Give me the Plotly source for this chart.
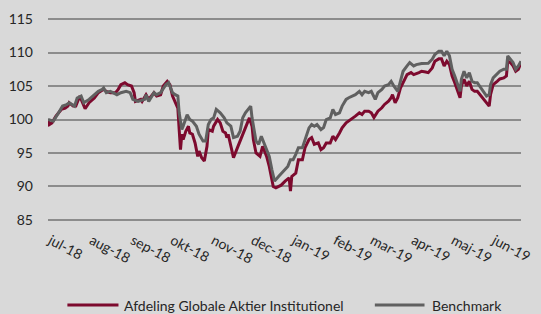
import plotly.graph_objects as go

# ---------------- data ----------------
fund_dates = [
    "2018-06-29","2018-06-30","2018-07-02","2018-07-05","2018-07-09","2018-07-12","2018-07-14","2018-07-15",
    "2018-07-18","2018-07-20","2018-07-23","2018-07-25","2018-07-27","2018-07-30","2018-08-03","2018-08-06",
    "2018-08-10","2018-08-12","2018-08-15","2018-08-19","2018-08-21","2018-08-23","2018-08-26","2018-08-28",
    "2018-08-31","2018-09-02","2018-09-03","2018-09-07","2018-09-08","2018-09-11","2018-09-13","2018-09-17",
    "2018-09-19","2018-09-22","2018-09-24","2018-09-27","2018-09-29","2018-10-01","2018-10-03","2018-10-05",
    "2018-10-06","2018-10-07","2018-10-08","2018-10-09","2018-10-11","2018-10-13","2018-10-14","2018-10-16",
    "2018-10-18","2018-10-20","2018-10-21","2018-10-23","2018-10-25","2018-10-27","2018-10-28","2018-10-31",
    "2018-11-01","2018-11-04","2018-11-06","2018-11-08","2018-11-10","2018-11-11","2018-11-12","2018-11-15",
    "2018-11-16","2018-11-19","2018-11-21","2018-11-23","2018-11-26","2018-11-28","2018-11-30","2018-12-01",
    "2018-12-03","2018-12-06","2018-12-08","2018-12-11","2018-12-13","2018-12-16","2018-12-18","2018-12-22",
    "2018-12-25","2018-12-28","2018-12-29","2018-12-30","2019-01-02","2019-01-04","2019-01-07","2019-01-09",
    "2019-01-12","2019-01-14","2019-01-16","2019-01-19","2019-01-21","2019-01-23","2019-01-25","2019-01-28",
    "2019-01-30","2019-02-01","2019-02-04","2019-02-06","2019-02-09","2019-02-11","2019-02-14","2019-02-16",
    "2019-02-19","2019-02-21","2019-02-23","2019-02-26","2019-02-28","2019-03-02","2019-03-05","2019-03-08",
    "2019-03-10","2019-03-13","2019-03-15","2019-03-16","2019-03-18","2019-03-20","2019-03-22","2019-03-25",
    "2019-03-27","2019-03-30","2019-04-01","2019-04-05","2019-04-07","2019-04-10","2019-04-12","2019-04-15",
    "2019-04-17","2019-04-20","2019-04-22","2019-04-24","2019-04-26","2019-04-28","2019-04-30","2019-05-02",
    "2019-05-04","2019-05-06","2019-05-07","2019-05-09","2019-05-11","2019-05-13","2019-05-15","2019-05-17",
    "2019-05-19","2019-05-22","2019-05-24","2019-05-26","2019-05-28","2019-05-29","2019-05-31","2019-06-03",
    "2019-06-05","2019-06-08","2019-06-10","2019-06-11","2019-06-13","2019-06-15","2019-06-17","2019-06-19",
    "2019-06-21",
]
fund_values = [
    100, 99.25, 99.5, 100.5, 101.5, 101.7, 102, 102.5,
    102, 102, 103.5, 102.5, 101.6, 102.5, 103.2, 104,
    104.5, 104.2, 104, 104, 104.5, 105.2, 105.5, 105.2,
    105, 104, 102.7, 103, 102.7, 103.7, 103, 104,
    103.5, 103.7, 105, 105.7, 105.2, 103.5, 102.5, 101.7,
    98.5, 95.5, 97.8, 97, 98.25, 99, 98, 97.8,
    96.5, 94.5, 95.3, 94.3, 93.8, 96, 98.5, 98.25,
    99, 100, 99.5, 98.25, 98, 97.3, 97.8, 95.5,
    94.3, 95.8, 96.8, 98, 99.5, 100.25, 99, 97,
    95, 94.5, 96, 94.5, 93, 90, 89.8, 90.2,
    90.8, 91.3, 89.3, 91.5, 92, 94, 94, 95.8,
    97, 97.3, 96.3, 96.5, 95.5, 95.8, 96.5, 96.5,
    97.5, 97, 98, 98.75, 99.5, 99.75, 100.25, 100.5,
    101, 100.75, 101.25, 101.25, 101, 100.3, 101.25, 101.75,
    102.25, 102.75, 103.25, 103.7, 102.5, 103.25, 104.7, 106,
    106.7, 107, 106.7, 107, 107.2, 107.1, 107, 107.7,
    108.7, 109.05, 109.05, 108, 108.7, 108.2, 106.5, 105.5,
    104.5, 103.25, 105, 106, 105, 105.7, 104.5, 104.2,
    104.2, 103.5, 103, 102.5, 102, 103.7, 105.2, 105.7,
    106.05, 106.2, 106.5, 108.7, 108.5, 108, 107.2, 107.5,
    108.5,
]

bench_dates = [
    "2018-06-29","2018-07-03","2018-07-07","2018-07-10","2018-07-13","2018-07-15","2018-07-19","2018-07-21",
    "2018-07-24","2018-07-26","2018-07-30","2018-08-03","2018-08-06","2018-08-09","2018-08-10","2018-08-12",
    "2018-08-15","2018-08-17","2018-08-20","2018-08-23","2018-08-27","2018-08-30","2018-09-01","2018-09-05",
    "2018-09-10","2018-09-11","2018-09-13","2018-09-17","2018-09-19","2018-09-22","2018-09-26","2018-09-28",
    "2018-10-01","2018-10-03","2018-10-05","2018-10-06","2018-10-08","2018-10-09","2018-10-11","2018-10-12",
    "2018-10-14","2018-10-16","2018-10-19","2018-10-21","2018-10-24","2018-10-26","2018-10-28","2018-10-30",
    "2018-11-01","2018-11-03","2018-11-06","2018-11-09","2018-11-11","2018-11-14","2018-11-16","2018-11-19",
    "2018-11-21","2018-11-23","2018-11-25","2018-11-27","2018-11-29","2018-11-30","2018-12-03","2018-12-05",
    "2018-12-07","2018-12-10","2018-12-13","2018-12-15","2018-12-17","2018-12-20","2018-12-24","2018-12-27",
    "2018-12-29","2018-12-31","2019-01-02","2019-01-04","2019-01-07","2019-01-09","2019-01-12","2019-01-14",
    "2019-01-16","2019-01-18","2019-01-21","2019-01-23","2019-01-25","2019-01-28","2019-01-30","2019-02-01",
    "2019-02-04","2019-02-06","2019-02-09","2019-02-11","2019-02-14","2019-02-16","2019-02-19","2019-02-21",
    "2019-02-23","2019-02-26","2019-02-28","2019-03-03","2019-03-05","2019-03-08","2019-03-10","2019-03-13",
    "2019-03-15","2019-03-17","2019-03-20","2019-03-22","2019-03-24","2019-03-27","2019-03-29","2019-04-01",
    "2019-04-03","2019-04-07","2019-04-10","2019-04-12","2019-04-15","2019-04-17","2019-04-20","2019-04-22",
    "2019-04-24","2019-04-26","2019-04-28","2019-04-30","2019-05-02","2019-05-04","2019-05-06","2019-05-07",
    "2019-05-09","2019-05-11","2019-05-13","2019-05-15","2019-05-17","2019-05-19","2019-05-22","2019-05-24",
    "2019-05-26","2019-05-28","2019-05-29","2019-05-31","2019-06-03","2019-06-05","2019-06-08","2019-06-10",
    "2019-06-11","2019-06-13","2019-06-15","2019-06-17","2019-06-19","2019-06-21",
]
bench_values = [
    100, 99.75, 101, 102, 102.2, 102.5, 102, 103.2,
    103.5, 102.5, 103, 103.7, 104.2, 104.5, 104.7, 104,
    104.2, 104, 103.7, 104, 104.2, 104, 103, 102.7,
    103, 103.7, 102.7, 104, 103.7, 104, 105.2, 105.5,
    104, 103.7, 103.5, 101, 98.5, 99, 100, 100.7,
    100, 99.75, 99, 97.8, 96.8, 96.8, 99.25, 100,
    100.25, 101.5, 101, 100.25, 99.5, 99, 97.3, 97.5,
    98.25, 100.25, 101, 101.5, 102, 100.25, 96.8, 96.3,
    97.5, 96, 94.5, 92.5, 90.8, 91.5, 92.3, 93,
    94, 94, 94.8, 95.8, 95.8, 97, 98.75, 99.25,
    99, 99.25, 98.5, 98.8, 100, 100.25, 101.5, 100.75,
    101, 102, 103, 103.25, 103.5, 103.7, 104.2, 103.7,
    104.2, 104, 104.2, 103, 104, 104.5, 105, 105.2,
    105.7, 105, 104.2, 105.7, 107.2, 108, 108.5, 108,
    108.2, 108.35, 108.4, 108.4, 109, 109.7, 110.2, 110.2,
    109.5, 110.2, 109.5, 107.5, 106.5, 105.2, 104.2, 106,
    107.2, 106.2, 107, 105.7, 105.5, 105.5, 104.7, 104.2,
    103.5, 103.7, 105.2, 106.2, 106.9, 107.2, 107.5, 107.5,
    109.5, 109, 108.5, 107.5, 108, 108.7,
]

month_ticks = ["2018-07-01","2018-08-01","2018-09-01","2018-10-01","2018-11-01","2018-12-01",
               "2019-01-01","2019-02-01","2019-03-01","2019-04-01","2019-05-01","2019-06-01"]
month_labels = ["jul-18","aug-18","sep-18","okt-18","nov-18","dec-18",
                "jan-19","feb-19","mar-19","apr-19","maj-19","jun-19"]
y_ticks = [85, 90, 95, 100, 105, 110, 115]

series_names = ["Afdeling Globale Aktier Institutionel", "Benchmark"]
RED = "#7d0a2e"
GRAY = "#606060"
BG = "#d9d9d9"
FONT = "Lato"
TXT = "#262626"

fig = go.Figure()
fig.add_trace(go.Scatter(x=fund_dates, y=fund_values, mode="lines", name=series_names[0],
                         line=dict(color=RED, width=3), showlegend=False))
fig.add_trace(go.Scatter(x=bench_dates, y=bench_values, mode="lines", name=series_names[1],
                         line=dict(color=GRAY, width=3), showlegend=False))

# custom legend (line samples + labels) below the chart
leg_y = -0.405
fig.add_shape(type="line", xref="paper", yref="paper", x0=0.041, x1=0.149, y0=leg_y, y1=leg_y,
              line=dict(color=RED, width=3))
fig.add_shape(type="line", xref="paper", yref="paper", x0=0.691, x1=0.796, y0=leg_y, y1=leg_y,
              line=dict(color=GRAY, width=3))
fig.add_annotation(xref="paper", yref="paper", x=0.157, y=leg_y, text=series_names[0],
                   showarrow=False, xanchor="left", yanchor="middle",
                   font=dict(family=FONT, size=14, color=TXT))
fig.add_annotation(xref="paper", yref="paper", x=0.808, y=leg_y, text=series_names[1],
                   showarrow=False, xanchor="left", yanchor="middle",
                   font=dict(family=FONT, size=14, color=TXT))

fig.update_layout(
    width=541, height=314,
    margin=dict(l=48, r=8, t=17, b=92, pad=0),
    paper_bgcolor=BG, plot_bgcolor=BG,
    font=dict(family=FONT, size=13, color=TXT),
    showlegend=False,
)
fig.update_xaxes(
    type="date", range=["2018-06-29", "2019-06-21"],
    tickvals=month_ticks, ticktext=month_labels, tickangle=28,
    showgrid=False, zeroline=False, showline=False, ticks="", ticklabelstandoff=7,
    ticklabeloverflow="allow",
    tickfont=dict(family=FONT, size=14, color=TXT),
)
fig.update_yaxes(
    range=[84.7, 115.3], tickvals=y_ticks, showgrid=True, gridcolor="#8c8c8c", gridwidth=1.5,
    zeroline=False, showline=False, ticks="", ticklabelstandoff=14,
    tickfont=dict(family=FONT, size=14, color=TXT),
)

fig.write_html(
    "out.html",
    config={"displayModeBar": False},
    post_script="document.body.style.margin='0';document.body.style.background='#d9d9d9';",
)
